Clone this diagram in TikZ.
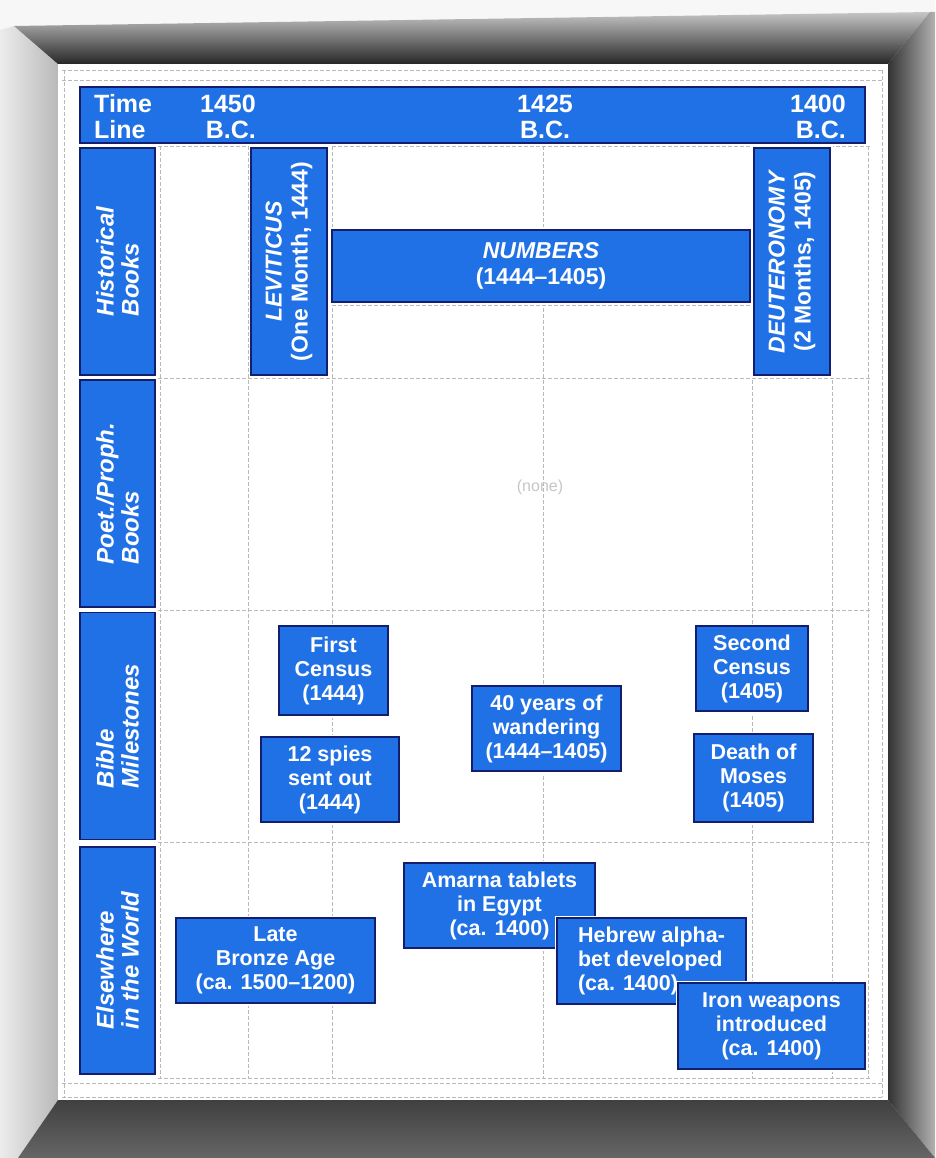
\documentclass[tikz,border=0pt]{standalone}
\usepackage{fontspec}
\setmainfont{Liberation Sans}
\definecolor{chartblue}{RGB}{33,113,230}
\definecolor{chartnavy}{RGB}{20,30,110}
\begin{document}
\begin{tikzpicture}[x=1pt, y=-1pt,
  bar/.style={draw=chartnavy, line width=1.2pt, fill=chartblue, text=white, align=center, inner sep=0pt, preaction={draw=white, line width=5pt}},
  rowtag/.style={bar, rotate=90, minimum width=227pt, minimum height=75pt, align=left, font=\fontsize{24}{25}\selectfont\bfseries\itshape},
  book/.style={bar, font=\fontsize{23}{26}\selectfont\bfseries},
  evbox/.style={bar, font=\fontsize{21.5}{24}\selectfont\bfseries},
  headtxt/.style={text=white, inner sep=0pt, font=\fontsize{25}{26}\selectfont\bfseries},
  gridline/.style={gray!55, line width=0.5pt, dash pattern=on 4pt off 2pt}
]
\useasboundingbox (0,0) rectangle (935,1158);
% frame round the chart
\fill[gray!6] (0,0) rectangle (935,1158);
\shade[left color=gray!15, right color=gray!55] (0,30) -- (14,26) -- (58,64) -- (58,1100) -- (18,1158) -- (0,1158) -- cycle;
\shade[top color=gray!45, bottom color=black!85] (14,26) -- (930,12) -- (888,64) -- (58,64) -- cycle;
\shade[left color=black!80, right color=gray!60] (888,64) -- (930,12) -- (935,12) -- (935,1158) -- (888,1100) -- cycle;
\shade[top color=black!75, bottom color=black!60] (58,1100) -- (888,1100) -- (935,1158) -- (18,1158) -- cycle;
\fill[white] (58,64) rectangle (888,1100);
\draw[gridline] (62,70) -- (884,70);
\draw[gridline] (62,80) -- (884,80);
\draw[gridline] (62,1083) -- (884,1083);
\draw[gridline] (62,1097) -- (884,1097);
\draw[gridline] (64,70) -- (64,1097);
\draw[gridline] (882,70) -- (882,1097);
% grid
\foreach \gx in {160,248,332,543,752,832,868}
  \draw[gridline] (\gx,146) -- (\gx,1078);
\foreach \gy in {146,378,610,842,1078}
  \draw[gridline] (158,\gy) -- (870,\gy);
\draw[gridline] (332,227) -- (752,227);
\draw[gridline] (332,305) -- (752,305);

% time line
\node[bar, minimum width=785pt, minimum height=56pt] (head) at (472.5,115) {};
\node[headtxt, anchor=west, align=left] (tl) at (94,117) {Time\\Line};
\node[headtxt, anchor=east, align=right] (y1450) at (256,117) {1450\\B.C.};
\node[headtxt, align=center] (y1425) at (545,117) {1425\\B.C.};
\node[headtxt, anchor=east, align=right] (y1400) at (846,117) {1400\\B.C.};

% rows
\node[rowtag] (hist) at (117.5,261.5) {Historical\\Books};
\node[rowtag] (poet) at (117.5,493.5) {Poet./Proph.\\Books};
\node[rowtag] (bible) at (117.5,726) {Bible\\Milestones};
\node[rowtag] (world) at (117.5,960.5) {Elsewhere\\in the World};

% books
\node[book, rotate=90, minimum width=227pt, minimum height=76pt] (lev) at (289,261.5) {\textit{LEVITICUS}\\(One Month, 1444)};
\node[book, minimum width=418pt, minimum height=72pt] (num) at (541,266) {\textit{NUMBERS}\\(1444--1405)};
\node[book, rotate=90, minimum width=227pt, minimum height=76pt] (deut) at (792,261.5) {\textit{DEUTERONOMY}\\(2 Months, 1405)};
\node[text=gray!45, font=\fontsize{16}{18}\selectfont] (none) at (540,487) {(none)};

% milestones
\node[evbox, minimum width=109pt, minimum height=89pt] (census1) at (333.5,670.5) {First\\Census\\(1444)};
\node[evbox, minimum width=138pt, minimum height=85pt] (spies) at (330,779.5) {12 spies\\sent out\\(1444)};
\node[evbox, minimum width=149pt, minimum height=85pt] (wander) at (546.5,728.5) {40 years of\\wandering\\(1444--1405)};
\node[evbox, minimum width=112pt, minimum height=85pt] (census2) at (752,668.5) {Second\\Census\\(1405)};
\node[evbox, minimum width=119pt, minimum height=88pt] (moses) at (753.5,778) {Death of\\Moses\\(1405)};

% elsewhere
\node[evbox, minimum width=199pt, minimum height=85pt] (bronze) at (275.5,960.5) {Late\\Bronze Age\\(ca. 1500--1200)};
\node[evbox, minimum width=191pt, minimum height=85pt] (amarna) at (499.5,905.5) {Amarna tablets\\in Egypt\\(ca. 1400)};
\node[evbox, align=left, minimum width=189pt, minimum height=86pt] (alpha) at (651.5,961) {Hebrew alpha-\\bet developed\\(ca. 1400)};
\node[evbox, minimum width=187pt, minimum height=86pt] (iron) at (771.5,1026) {Iron weapons\\introduced\\(ca. 1400)};
\end{tikzpicture}
\end{document}
